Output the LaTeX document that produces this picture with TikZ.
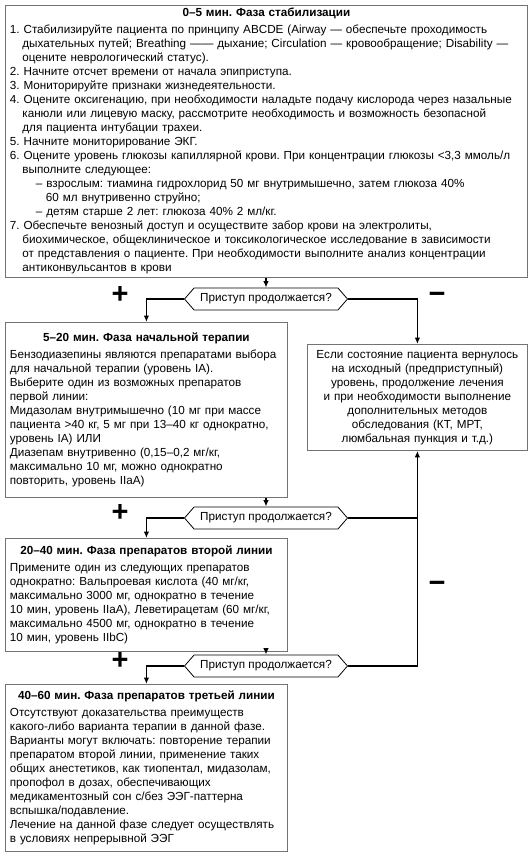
\documentclass[tikz,border=0pt]{standalone}
\usepackage{fontspec}
\setmainfont{Liberation Sans}
\usetikzlibrary{shapes.symbols,arrows.meta}
\frenchspacing
\newcommand\hi{\hspace*{12.5pt}}
\newcommand\hsub{\hspace*{26pt}}
\newcommand\hsubb{\hspace*{36pt}}
\begin{document}
\begin{tikzpicture}[x=1pt,y=-1pt,
  box/.style={draw=black!55, line width=0.8pt, anchor=north west, align=left,
    inner xsep=4.5pt, inner ysep=3pt, font=\fontsize{11.7}{14}\selectfont},
  cbox/.style={box, align=center},
  quest/.style={draw, line width=0.8pt, signal, signal to=west and east,
    signal pointer angle=98, inner xsep=3pt, inner ysep=2pt,
    font=\fontsize{11.7}{14}\selectfont, minimum height=22pt, minimum width=163pt},
  conn/.style={line width=1.4pt, -{Latex[length=6.5pt,width=5.5pt]}},
  plain/.style={line width=1.4pt},
  sign/.style={font=\fontsize{29}{29}\bfseries\selectfont, inner sep=0pt, anchor=base}
]
\useasboundingbox (0,0) rectangle (531,856);

\node[box, text width=513pt, minimum width=522pt, minimum height=271pt] (b1) at (5,5) {%
\makebox[\linewidth]{\bfseries 0–5 мин. Фаза стабилизации}\\[3pt]
1. Стабилизируйте пациента по принципу ABCDE (Airway — обеспечьте проходимость\\
\hi дыхательных путей; Breathing —— дыхание; Circulation — кровообращение; Disability —\\
\hi оцените неврологический статус).\\
2. Начните отсчет времени от начала эпиприступа.\\
3. Мониторируйте признаки жизнедеятельности.\\
4. Оцените оксигенацию, при необходимости наладьте подачу кислорода через назальные\\
\hi канюли или лицевую маску, рассмотрите необходимость и возможность безопасной\\
\hi для пациента интубации трахеи.\\
5. Начните мониторирование ЭКГ.\\
6. Оцените уровень глюкозы капиллярной крови. При концентрации глюкозы <3,3 ммоль/л\\
\hi выполните следующее:\\
\hsub – взрослым: тиамина гидрохлорид 50 мг внутримышечно, затем глюкоза 40\%\\
\hsubb 60 мл внутривенно струйно;\\
\hsub – детям старше 2 лет: глюкоза 40\% 2 мл/кг.\\
7. Обеспечьте венозный доступ и осуществите забор крови на электролиты,\\
\hi биохимическое, общеклиническое и токсикологическое исследование в зависимости\\
\hi от представления о пациенте. При необходимости выполните анализ концентрации\\
\hi антиконвульсантов в крови};

\node[quest] (q1) at (266,299) {Приступ продолжается?};

\node[box, text width=273pt, minimum width=282pt, minimum height=175pt] (b2) at (5,322) {%
\makebox[\linewidth]{\bfseries 5–20 мин. Фаза начальной терапии}\\[3pt]
Бензодиазепины являются препаратами выбора\\
для начальной терапии (уровень IA).\\
Выберите один из возможных препаратов\\
первой линии:\\
Мидазолам внутримышечно (10 мг при массе\\
пациента >40 кг, 5 мг при 13–40 кг однократно,\\
уровень IA) ИЛИ\\
Диазепам внутривенно (0,15–0,2 мг/кг,\\
максимально 10 мг, можно однократно\\
повторить, уровень IIaA)};

\node[cbox, text width=211pt, minimum width=220pt, minimum height=106pt] (rb) at (307,344) {%
Если состояние пациента вернулось\\
на исходный (предприступный)\\
уровень, продолжение лечения\\
и при необходимости выполнение\\
дополнительных методов\\
обследования (КТ, МРТ,\\
люмбальная пункция и т.д.)};

\node[quest] (q2) at (266,518) {Приступ продолжается?};

\node[box, text width=273pt, minimum width=282pt, minimum height=113pt] (b3) at (5,538) {%
\makebox[\linewidth]{\bfseries 20–40 мин. Фаза препаратов второй линии}\\[3pt]
Примените один из следующих препаратов\\
однократно: Вальпроевая кислота (40 мг/кг,\\
максимально 3000 мг, однократно в течение\\
10 мин, уровень IIaA), Леветирацетам (60 мг/кг,\\
максимально 4500 мг, однократно в течение\\
10 мин, уровень IIbC)};

\node[quest] (q3) at (266,666) {Приступ продолжается?};

\node[box, text width=273pt, minimum width=282pt, minimum height=167pt] (b4) at (5,684) {%
\makebox[\linewidth]{\bfseries 40–60 мин. Фаза препаратов третьей линии}\\[3pt]
Отсутствуют доказательства преимуществ\\
какого-либо варианта терапии в данной фазе.\\
Варианты могут включать: повторение терапии\\
препаратом второй линии, применение таких\\
общих анестетиков, как тиопентал, мидазолам,\\
пропофол в дозах, обеспечивающих\\
медикаментозный сон с/без ЭЭГ-паттерна\\
вспышка/подавление.\\
Лечение на данной фазе следует осуществлять\\
в условиях непрерывной ЭЭГ};

\node[sign] (p1) at (120,303) {+};
\node[sign] (m1) at (437,303) {−};
\node[sign] (p2) at (120,521) {+};
\node[sign] (m2) at (437,592) {−};
\node[sign] (p3) at (120,669) {+};

\draw[conn] (b1.south -| q1.north) -- (q1.north);
\draw[conn] (q1.west) -| (b2.north);
\draw[conn] (q1.east) -| (rb.north);
\draw[conn] (b2.south -| q2.north) -- (q2.north);
\draw[conn] (q2.west) -| (b3.north);
\draw[plain] (q2.east) -- (q2.east -| rb.south);
\draw[conn] (b3.south -| q3.north) -- (q3.north);
\draw[conn] (q3.west) -| (b4.north);
\draw[conn] (q3.east) -| (rb.south);
\end{tikzpicture}
\end{document}
